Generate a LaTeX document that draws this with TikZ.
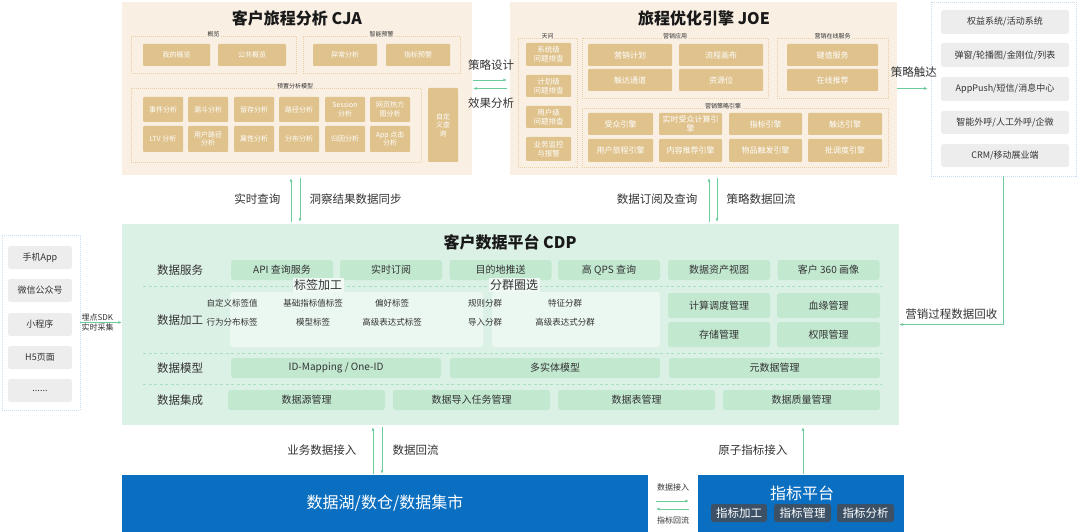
\documentclass[tikz,border=0pt]{standalone}
\usepackage{fontspec}
\setmainfont{Noto Sans CJK SC}
\usepackage{tikz}
\usetikzlibrary{arrows.meta,positioning,fit}
\definecolor{cjabg}{HTML}{F9EFE3}
\definecolor{tancol}{HTML}{DFC28C}
\definecolor{tanline}{HTML}{E8CFA5}
\definecolor{cdpbg}{HTML}{DCF1E6}
\definecolor{cdpbox}{HTML}{C2E8D0}
\definecolor{sepcol}{HTML}{A9DFC2}
\definecolor{linecol}{HTML}{6BCB99}
\definecolor{greybox}{HTML}{EDEDED}
\definecolor{sideline}{HTML}{C9DDF0}
\definecolor{lakecol}{HTML}{0B6FC1}
\definecolor{idxbox}{HTML}{3D5166}
\definecolor{txtcol}{HTML}{333333}

\begin{document}
\begin{tikzpicture}[x=1pt,y=-1pt,>={Latex[length=3.5pt,width=3pt]},
  area/.style={inner sep=0pt,draw=none},
  grp/.style={inner sep=0pt,draw=tanline,line width=0.6pt,dash pattern=on 1pt off 1pt},
  glbl/.style={font=\fontsize{6}{7}\selectfont,text=black!80,fill=cjabg,inner sep=0.8pt,yshift=1.5pt},
  tanbox/.style={inner sep=0pt,fill=tancol,text=white,rounded corners=1pt,align=center,
    minimum width=40pt,minimum height=25pt,font=\fontsize{7}{8.5}\selectfont},
  jtan/.style={tanbox,minimum height=22pt,font=\fontsize{8}{9.5}\selectfont},
  twbox/.style={tanbox,minimum width=45pt,minimum height=22pt,font=\fontsize{7.5}{9}\selectfont},
  ttl/.style={font=\fontsize{16}{18}\selectfont\bfseries,text=black!90},
  sidepanel/.style={inner sep=0pt,draw=sideline,line width=0.6pt,dash pattern=on 1pt off 1pt},
  gbox/.style={inner sep=0pt,fill=greybox,rounded corners=2.5pt,text=txtcol,
    minimum height=23pt,font=\fontsize{9}{10}\selectfont},
  cbox/.style={inner sep=0pt,fill=cdpbox,rounded corners=2.5pt,text=txtcol,
    minimum height=20pt,font=\fontsize{10}{12}\selectfont},
  rowlbl/.style={font=\fontsize{11.5}{13}\selectfont,text=txtcol},
  tag/.style={font=\fontsize{8.5}{10}\selectfont,text=txtcol},
  panel/.style={inner sep=0pt,fill=white,fill opacity=0.45,rounded corners=3pt},
  ptitle/.style={font=\fontsize{12}{14}\selectfont,text=txtcol,fill=cdpbg!40!white,inner sep=1.5pt},
  sepline/.style={draw=sepcol,line width=0.8pt,dash pattern=on 3pt off 2.5pt},
  lakebox/.style={inner sep=0pt,fill=lakecol,text=white,minimum height=57pt,font=\fontsize{16}{18}\selectfont},
  ibox/.style={inner sep=0pt,fill=idxbox,text=white,rounded corners=2.5pt,
    minimum width=57pt,minimum height=18pt,font=\fontsize{11.5}{13}\selectfont},
  arr/.style={draw=linecol,line width=0.8pt,->},
  lab/.style={font=\fontsize{11.5}{13}\selectfont,text=txtcol},
  slab/.style={font=\fontsize{8}{9}\selectfont,text=txtcol,inner sep=1pt}]
\useasboundingbox (0,0) rectangle (1080,532);

\node[area,fill=cjabg,fit={(122,2)(472,175)}] (cja) {};
\node[ttl] (cjat) at (297,18) {客户旅程分析 CJA};
\node[grp,fit={(131,36)(296,73)}] (ovw) {};
\node[glbl] (ovwl) at (ovw.north) {概览};
\node[tanbox,minimum width=67pt,minimum height=22pt] (ov1) at (176.5,55) {我的概览};
\node[tanbox,minimum width=68pt,minimum height=22pt] (ov2) at (252,55) {公共概览};
\node[grp,fit={(303,36)(460,73)}] (alert) {};
\node[glbl] (alertl) at (alert.north) {智能预警};
\node[tanbox,minimum width=64pt,minimum height=22pt] (al1) at (345,55) {异常分析};
\node[tanbox,minimum width=64pt,minimum height=22pt] (al2) at (418,55) {指标预警};
\node[grp,fit={(131,88)(421,162)}] (model) {};
\node[glbl] (modell) at ([xshift=19pt]model.north) {预置分析模型};
\node[tanbox] (m1) at (163,109.5) {事件分析};
\node[tanbox] (m2) at (208,109.5) {漏斗分析};
\node[tanbox] (m3) at (254,109.5) {留存分析};
\node[tanbox] (m4) at (299,109.5) {路径分析};
\node[tanbox] (m5) at (345,109.5) {Session\\分析};
\node[tanbox] (m6) at (390,109.5) {网页热力\\图分析};
\node[tanbox,minimum height=26pt] (m7) at (163,139) {LTV 分析};
\node[tanbox,minimum height=26pt] (m8) at (208,139) {用户路径\\分析};
\node[tanbox,minimum height=26pt] (m9) at (254,139) {属性分析};
\node[tanbox,minimum height=26pt] (m10) at (299,139) {分布分析};
\node[tanbox,minimum height=26pt] (m11) at (345,139) {归因分析};
\node[tanbox,minimum height=26pt] (m12) at (390,139) {App 点击\\分析};
\node[tanbox,minimum width=30pt,minimum height=74pt] (query) at (443,125) {自定\\义查\\询};

\node[area,fill=cjabg,fit={(510,2)(897,175)}] (joe) {};
\node[ttl] (joet) at (704,18) {旅程优化引擎 JOE};
\node[grp,fit={(518,38)(577,167)}] (tw) {};
\node[glbl] (twl) at (tw.north) {天问};
\node[twbox,minimum height=23pt] (tw1) at (548.5,54.5) {系统级\\问题排查};
\node[twbox] (tw2) at (548.5,86) {计划级\\问题排查};
\node[twbox] (tw3) at (548.5,117) {用户级\\问题排查};
\node[twbox,minimum height=24pt] (tw4) at (548.5,149) {业务监控\\与报警};
\node[grp,fit={(582,38)(768,98)}] (mapp) {};
\node[glbl] (mappl) at (mapp.north) {营销应用};
\node[jtan,minimum width=84pt] (ma1) at (630,55) {营销计划};
\node[jtan,minimum width=84pt] (ma2) at (721,55) {流程画布};
\node[jtan,minimum width=84pt] (ma3) at (630,80) {触达通道};
\node[jtan,minimum width=84pt] (ma4) at (721,80) {资源位};
\node[grp,fit={(777,38)(888,98)}] (online) {};
\node[glbl] (onlinel) at (online.north) {营销在线服务};
\node[jtan,minimum width=91pt] (on1) at (832.5,55) {键值服务};
\node[jtan,minimum width=91pt] (on2) at (832.5,80) {在线推荐};
\node[grp,fit={(582,108)(888,167)}] (engine) {};
\node[glbl] (enginel) at ([xshift=-12pt]engine.north) {营销策略引擎};
\node[jtan,minimum width=65pt] (e1) at (620.5,124) {受众引擎};
\node[jtan,minimum width=63pt] (e2) at (690.5,124) {实时受众计算引\\擎};
\node[jtan,minimum width=73pt] (e3) at (765.5,124) {指标引擎};
\node[jtan,minimum width=74pt] (e4) at (845,124) {触达引擎};
\node[jtan,minimum width=65pt,minimum height=23pt] (e5) at (620.5,150.5) {用户旅程引擎};
\node[jtan,minimum width=63pt,minimum height=23pt] (e6) at (690.5,150.5) {内容推荐引擎};
\node[jtan,minimum width=73pt,minimum height=23pt] (e7) at (765.5,150.5) {物品触发引擎};
\node[jtan,minimum width=74pt,minimum height=23pt] (e8) at (845,150.5) {批调度引擎};

\node[sidepanel,fit={(931,2)(1076,176)}] (side) {};
\node[gbox,minimum width=128pt,minimum height=24pt] (s1) at (1005,22) {权益系统/活动系统};
\node[gbox,minimum width=128pt,minimum height=24pt] (s2) at (1005,55) {弹窗/轮播图/金刚位/列表};
\node[gbox,minimum width=128pt,minimum height=24pt] (s3) at (1005,89) {AppPush/短信/消息中心};
\node[gbox,minimum width=128pt] (s4) at (1005,122.5) {智能外呼/人工外呼/企微};
\node[gbox,minimum width=128pt] (s5) at (1005,155.5) {CRM/移动展业端};

\node[sidepanel,fit={(2,235)(80,410)}] (src) {};
\node[gbox,minimum width=64pt] (c1) at (40,257.5) {手机App};
\node[gbox,minimum width=64pt] (c2) at (40,290.5) {微信公众号};
\node[gbox,minimum width=64pt] (c3) at (40,324.5) {小程序};
\node[gbox,minimum width=64pt] (c4) at (40,357.5) {H5页面};
\node[gbox,minimum width=64pt] (c5) at (40,390.5) {......};

\node[area,fill=cdpbg,fit={(122,224)(899,425)}] (cdp) {};
\node[ttl] (cdpt) at (510,242) {客户数据平台 CDP};
\draw[sepline] (143,286) -- (882,286);
\draw[sepline] (143,353) -- (882,353);
\draw[sepline] (143,384) -- (882,384);
\node[rowlbl] (r1) at (180,270) {数据服务};
\node[rowlbl] (r2) at (180,320) {数据加工};
\node[rowlbl] (r3) at (180,368) {数据模型};
\node[rowlbl] (r4) at (180,400) {数据集成};
\node[cbox,minimum width=102pt] (d1) at (282,270) {API 查询服务};
\node[cbox,minimum width=102pt] (d2) at (391,270) {实时订阅};
\node[cbox,minimum width=102pt] (d3) at (500.5,270) {目的地推送};
\node[cbox,minimum width=102pt] (d4) at (609,270) {高 QPS 查询};
\node[cbox,minimum width=102pt] (d5) at (719,270) {数据资产视图};
\node[cbox,minimum width=102pt] (d6) at (828.5,270) {客户 360 画像};
\node[panel,fit={(230,292)(483,347)}] (tagp) {};
\node[panel,fit={(492,292)(660,347)}] (segp) {};
\node[ptitle] (tagt) at (318,285) {标签加工};
\node[ptitle] (segt) at (514,285) {分群圈选};
\node[tag] (t1) at (232,303) {自定义标签值};
\node[tag] (t2) at (313,303) {基础指标值标签};
\node[tag] (t3) at (392,303) {偏好标签};
\node[tag] (t4) at (232,322) {行为分布标签};
\node[tag] (t5) at (313,322) {模型标签};
\node[tag] (t6) at (392,322) {高级表达式标签};
\node[tag] (g1) at (485,303) {规则分群};
\node[tag] (g2) at (565,303) {特征分群};
\node[tag] (g3) at (485,322) {导入分群};
\node[tag] (g4) at (565,322) {高级表达式分群};
\node[cbox,minimum width=102pt,minimum height=25pt] (p1) at (719,305.5) {计算调度管理};
\node[cbox,minimum width=103pt,minimum height=25pt] (p2) at (828.5,305.5) {血缘管理};
\node[cbox,minimum width=102pt,minimum height=25pt] (p3) at (719,334.5) {存储管理};
\node[cbox,minimum width=103pt,minimum height=25pt] (p4) at (828.5,334.5) {权限管理};
\node[cbox,minimum width=210pt] (dm1) at (336,368) {ID-Mapping / One-ID};
\node[cbox,minimum width=210pt] (dm2) at (555,368) {多实体模型};
\node[cbox,minimum width=211pt] (dm3) at (774.5,368) {元数据管理};
\node[cbox,minimum width=157pt] (di1) at (306.5,400) {数据源管理};
\node[cbox,minimum width=157pt] (di2) at (471.5,400) {数据导入任务管理};
\node[cbox,minimum width=157pt] (di3) at (636.5,400) {数据表管理};
\node[cbox,minimum width=157pt] (di4) at (801.5,400) {数据质量管理};

\node[lakebox,minimum width=526pt] (lake) at (385,503.5) {数据湖/数仓/数据集市};
\node[lakebox,minimum width=206pt] (idx) at (801,503.5) {};
\node[lakebox,minimum height=0pt,fill=none] (idxt) at (802,493) {指标平台};
\node[ibox,minimum width=56pt] (i1) at (739,513) {指标加工};
\node[ibox] (i2) at (802.5,513) {指标管理};
\node[ibox] (i3) at (865.5,513) {指标分析};

\draw[arr,shorten <=1pt,shorten >=3pt] ([yshift=8.5pt]cja.east) -- ([yshift=8.5pt]cja.east -| joe.west) node[midway,above=6pt,lab] (lsd) {策略设计};
\draw[arr,shorten <=3pt,shorten >=1pt] (joe.west |- cja.east) -- (cja.east) node[midway,below=6pt,lab] (lxf) {效果分析};
\draw[arr,shorten >=3pt] (joe.east) -- (joe.east -| side.west) node[midway,above=7pt,lab] (lcd) {策略触达};
\draw[arr] (side.south) |- (cdp.east) node[pos=0.75,above=1pt,lab] (lhs) {营销过程数据回收};
\draw[arr] (src.east) -- (src.east -| cdp.west) node[at start,anchor=south west,slab] (lsdk) {埋点SDK} node[at start,anchor=north west,slab] (lcj) {实时采集};
\draw[arr,shorten <=2pt,shorten >=3pt] ([xshift=-6pt]cja.south |- cdp.north) -- ([xshift=-6pt]cja.south) node[midway,left=7pt,lab] (lss) {实时查询};
\draw[arr,shorten <=3pt,shorten >=2pt] ([xshift=3pt]cja.south) -- ([xshift=3pt]cja.south |- cdp.north) node[midway,right=6pt,lab] (ldc) {洞察结果数据同步};
\draw[arr,shorten <=2pt,shorten >=3pt] ([xshift=5.5pt]joe.south |- cdp.north) -- ([xshift=5.5pt]joe.south) node[midway,left=8pt,lab] (ldy) {数据订阅及查询};
\draw[arr,shorten <=3pt,shorten >=2pt] ([xshift=13.5pt]joe.south) -- ([xshift=13.5pt]joe.south |- cdp.north) node[midway,right=6pt,lab] (lhl) {策略数据回流};
\draw[arr,shorten <=1pt,shorten >=2pt] ([xshift=-12pt]lake.north) -- ([xshift=-12pt]lake.north |- cdp.south) node[midway,left=13pt,lab] (lyw) {业务数据接入};
\draw[arr,shorten <=2pt,shorten >=1pt] ([xshift=-3pt]lake.north |- cdp.south) -- ([xshift=-3pt]lake.north) node[midway,right=7pt,lab] (lhl2) {数据回流};
\draw[arr,shorten <=1pt,shorten >=2pt] ([xshift=2pt]idx.north) -- ([xshift=2pt]idx.north |- cdp.south) node[midway,left=12pt,lab] (lyz) {原子指标接入};
\draw[arr,shorten <=8pt,shorten >=9pt] ([yshift=2.5pt]lake.east) -- ([yshift=2.5pt]lake.east -| idx.west) node[midway,above=8pt,slab] (ljr) {数据接入};
\draw[arr,shorten <=9pt,shorten >=8pt] ([yshift=-5.5pt]idx.west) -- ([yshift=-5.5pt]idx.west -| lake.east) node[midway,below=6pt,slab] (lhl3) {指标回流};
\end{tikzpicture}
\end{document}
